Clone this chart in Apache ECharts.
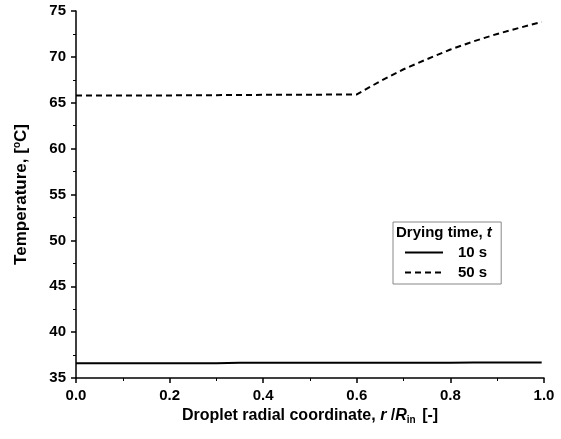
<!DOCTYPE html>
<html>
<head>
<meta charset="utf-8">
<script src="https://cdn.jsdelivr.net/npm/echarts@6/dist/echarts.min.js"></script>
<style>
  html, body { margin: 0; padding: 0; background: #fff; }
  #chart { width: 561px; height: 439px; }
</style>
</head>
<body>
<div id="chart"></div>
<script>
// radial coordinate r/Rin
var rPos = [0.0, 0.05, 0.1, 0.15, 0.2, 0.25, 0.3, 0.35, 0.4, 0.45, 0.5, 0.55, 0.6,
            0.65, 0.7, 0.75, 0.8, 0.85, 0.9, 0.95, 0.995];
// temperature after 10 s
var temp10 = [36.6, 36.6, 36.6, 36.6, 36.6, 36.6, 36.6, 36.65, 36.65, 36.65, 36.65, 36.65, 36.65,
              36.65, 36.65, 36.65, 36.65, 36.7, 36.7, 36.7, 36.7];
// temperature after 50 s
var temp50 = [65.8, 65.8, 65.8, 65.8, 65.8, 65.82, 65.83, 65.85, 65.86, 65.87, 65.88, 65.89, 65.9,
              67.35, 68.65, 69.75, 70.8, 71.7, 72.5, 73.2, 73.8];
var seriesNames = ['10 s', '50 s'];

function pairs(xs, ys) {
    var res = [];
    for (var i = 0; i < xs.length; i++) {
        res.push([xs[i], ys[i]]);
    }
    return res;
}

var font = 'Liberation Sans, Arial, sans-serif';
var myChart = echarts.init(document.getElementById('chart'));

var option = {
    backgroundColor: '#fff',
    animation: false,
    textStyle: { fontFamily: font },
    grid: { left: 76, right: 17, top: 11, bottom: 61 },
    legend: {
        left: 393,
        top: 222,
        orient: 'vertical',
        data: seriesNames,
        itemWidth: 38,
        itemHeight: 10,
        itemGap: 5,
        padding: [23, 14, 4, 11],
        borderColor: '#888',
        borderWidth: 1,
        itemStyle: { opacity: 0 },
        textStyle: { fontFamily: font, fontWeight: 'bold', fontSize: 15, color: '#000', padding: [0, 0, 0, 10] }
    },
    graphic: [{
        type: 'text',
        left: 396,
        top: 225,
        style: {
            text: 'Drying time, {i|t}',
            fontFamily: font,
            fontWeight: 'bold',
            fontSize: 15,
            fill: '#000',
            rich: { i: { fontStyle: 'italic', fontWeight: 'bold', fontSize: 15, fontFamily: font } }
        }
    }],
    xAxis: {
        type: 'value',
        min: 0,
        max: 1,
        interval: 0.2,
        name: 'Droplet radial coordinate, {i|r} /{i|R}{sub|in} [-]',
        nameLocation: 'middle',
        nameGap: 22,
        nameTextStyle: {
            fontFamily: font, fontWeight: 'bold', fontSize: 16, color: '#000',
            rich: {
                i: { fontStyle: 'italic', fontWeight: 'bold', fontSize: 16, fontFamily: font, color: '#000' },
                sub: { fontWeight: 'bold', fontSize: 10, fontFamily: font, color: '#000', padding: [9, 2, 0, 0] }
            }
        },
        axisLine: { lineStyle: { color: '#000', width: 1.5 } },
        axisTick: { length: 5, lineStyle: { color: '#000', width: 1.5 } },
        minorTick: { show: true, splitNumber: 2, length: 3, lineStyle: { color: '#000', width: 1 } },
        splitLine: { show: false },
        axisLabel: {
            fontFamily: font, fontWeight: 'bold', fontSize: 15, color: '#000', margin: 10,
            formatter: function (v) { return v.toFixed(1); }
        }
    },
    yAxis: {
        type: 'value',
        min: 35,
        max: 75,
        interval: 5,
        name: 'Temperature, [{sup|o}C]',
        nameLocation: 'middle',
        nameRotate: 90,
        nameGap: 45,
        nameTextStyle: {
            fontFamily: font, fontWeight: 'bold', fontSize: 17, color: '#000',
            rich: {
                sup: { fontWeight: 'bold', fontSize: 10, fontFamily: font, color: '#000', padding: [0, 0, 9, 0] }
            }
        },
        axisLine: { show: true, lineStyle: { color: '#000', width: 1.5 } },
        axisTick: { show: true, length: 5, lineStyle: { color: '#000', width: 1.5 } },
        minorTick: { show: true, splitNumber: 2, length: 3, lineStyle: { color: '#000', width: 1 } },
        splitLine: { show: false },
        axisLabel: { fontFamily: font, fontWeight: 'bold', fontSize: 15, color: '#000', margin: 10 }
    },
    series: [
        {
            name: seriesNames[0],
            type: 'line',
            data: pairs(rPos, temp10),
            showSymbol: false,
            symbol: 'none',
            lineStyle: { color: '#000', width: 2, type: 'solid' },
            itemStyle: { color: '#000' }
        },
        {
            name: seriesNames[1],
            type: 'line',
            data: pairs(rPos, temp50),
            showSymbol: false,
            symbol: 'none',
            lineStyle: { color: '#000', width: 2, type: [6, 4] },
            itemStyle: { color: '#000' }
        }
    ]
};
myChart.setOption(option);
</script>
</body>
</html>
